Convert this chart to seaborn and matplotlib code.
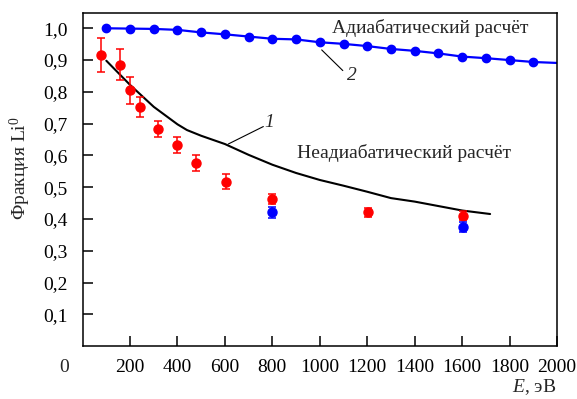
import matplotlib
matplotlib.use("Agg")
import matplotlib.pyplot as plt
import numpy as np
import pandas as pd
import seaborn as sns

# adiabatic calculation (curve 2)
adiab_E = [100, 200, 300, 400, 500, 600, 700, 800, 900, 1000,
           1100, 1200, 1300, 1400, 1500, 1600, 1700, 1800, 1900, 2000]
adiab_F = [1.000, 0.999, 0.998, 0.995, 0.987, 0.981, 0.974, 0.967, 0.965, 0.956,
           0.951, 0.944, 0.935, 0.929, 0.921, 0.911, 0.906, 0.900, 0.894, 0.891]
adiab_marked = adiab_E[:-1]

# non-adiabatic calculation (curve 1)
nonad_E = [100, 200, 300, 400, 440, 500, 600, 700, 800, 900, 1000,
           1100, 1200, 1300, 1400, 1500, 1600, 1718]
nonad_F = [0.898, 0.822, 0.753, 0.698, 0.680, 0.662, 0.636, 0.602, 0.571, 0.545, 0.523,
           0.505, 0.486, 0.466, 0.455, 0.441, 0.427, 0.416]

# experiment, red
red_E = [78, 158, 200, 242, 317, 397, 477, 603, 800, 1204, 1605]
red_F = [0.916, 0.886, 0.805, 0.752, 0.684, 0.634, 0.577, 0.518, 0.463, 0.421, 0.410]
red_err = [0.052, 0.050, 0.043, 0.031, 0.026, 0.025, 0.025, 0.023, 0.015, 0.014, 0.014]

# experiment, blue
blue_E = [800, 1605]
blue_F = [0.421, 0.375]
blue_err = [0.017, 0.017]

sns.set_style("ticks")
plt.rcParams['font.family'] = ['Liberation Serif', 'DejaVu Serif']
plt.rcParams['mathtext.fontset'] = 'custom'
plt.rcParams['mathtext.rm'] = 'Liberation Serif'
plt.rcParams['mathtext.it'] = 'Liberation Serif:italic'
FS = 14

fig = plt.figure(figsize=(5.77, 3.99), dpi=100)
ax = fig.add_axes([82.6 / 577, 1 - 346.3 / 399, 474.4 / 577, 333.6 / 399])

df_ad = pd.DataFrame({"E": adiab_E, "F": adiab_F})
sns.lineplot(data=df_ad, x="E", y="F", color="blue", lw=1.6, ax=ax)
ax.plot(adiab_marked, adiab_F[:-1], "o", color="blue", ms=6, zorder=3)

df_na = pd.DataFrame({"E": nonad_E, "F": nonad_F})
sns.lineplot(data=df_na, x="E", y="F", color="black", lw=1.5, ax=ax)

ax.errorbar(red_E, red_F, yerr=red_err, fmt="o", color="red", ms=6.5,
            capsize=3, elinewidth=1.1, capthick=1.1, zorder=4)
ax.errorbar(blue_E, blue_F, yerr=blue_err, fmt="o", color="blue", ms=6.5,
            capsize=3, elinewidth=1.1, capthick=1.1, zorder=5)

ax.set_xlim(0, 2000)
ax.set_ylim(0, 1.049)
ax.set_xticks(range(200, 2001, 200))
ax.set_yticks(np.arange(0.1, 1.01, 0.1))
ax.set_yticklabels([f"{v:.1f}".replace(".", ",") for v in np.arange(0.1, 1.01, 0.1)])
ax.tick_params(direction="in", length=7.5, width=1.1, labelsize=FS, colors="black")
ax.tick_params(axis="y", pad=11)
ax.tick_params(axis="x", pad=9)
for s in ax.spines.values():
    s.set_visible(True)
    s.set_linewidth(1.1)
    s.set_color("black")

ax.set_xlabel("")
ax.set_ylabel("")
ax.annotate("0", xy=(0, 0), xycoords="axes fraction", xytext=(-13, -15.5),
            textcoords="offset points", ha="center", va="center", fontsize=FS)
fig.text(556 / 577, 1 - 387 / 399, "$E$, эВ", ha="right", va="center", fontsize=FS)
fig.text(20 / 577, 1 - 168 / 399, "Фракция Li$^0$", rotation=90,
         ha="center", va="center", fontsize=FS)

ax.text(1050, 1.0, "Адиабатический расчёт", fontsize=FS, va="center", ha="left")
ax.text(904, 0.609, "Неадиабатический расчёт", fontsize=FS, va="center", ha="left")
ax.text(787, 0.703, "1", fontsize=FS, style="italic", va="center", ha="center")
ax.text(1135, 0.853, "2", fontsize=FS, style="italic", va="center", ha="center")
ax.plot([762, 614], [0.691, 0.636], color="black", lw=0.8)
ax.plot([1008, 1097], [0.932, 0.867], color="black", lw=0.8)

fig.savefig("out.png", dpi=100)
